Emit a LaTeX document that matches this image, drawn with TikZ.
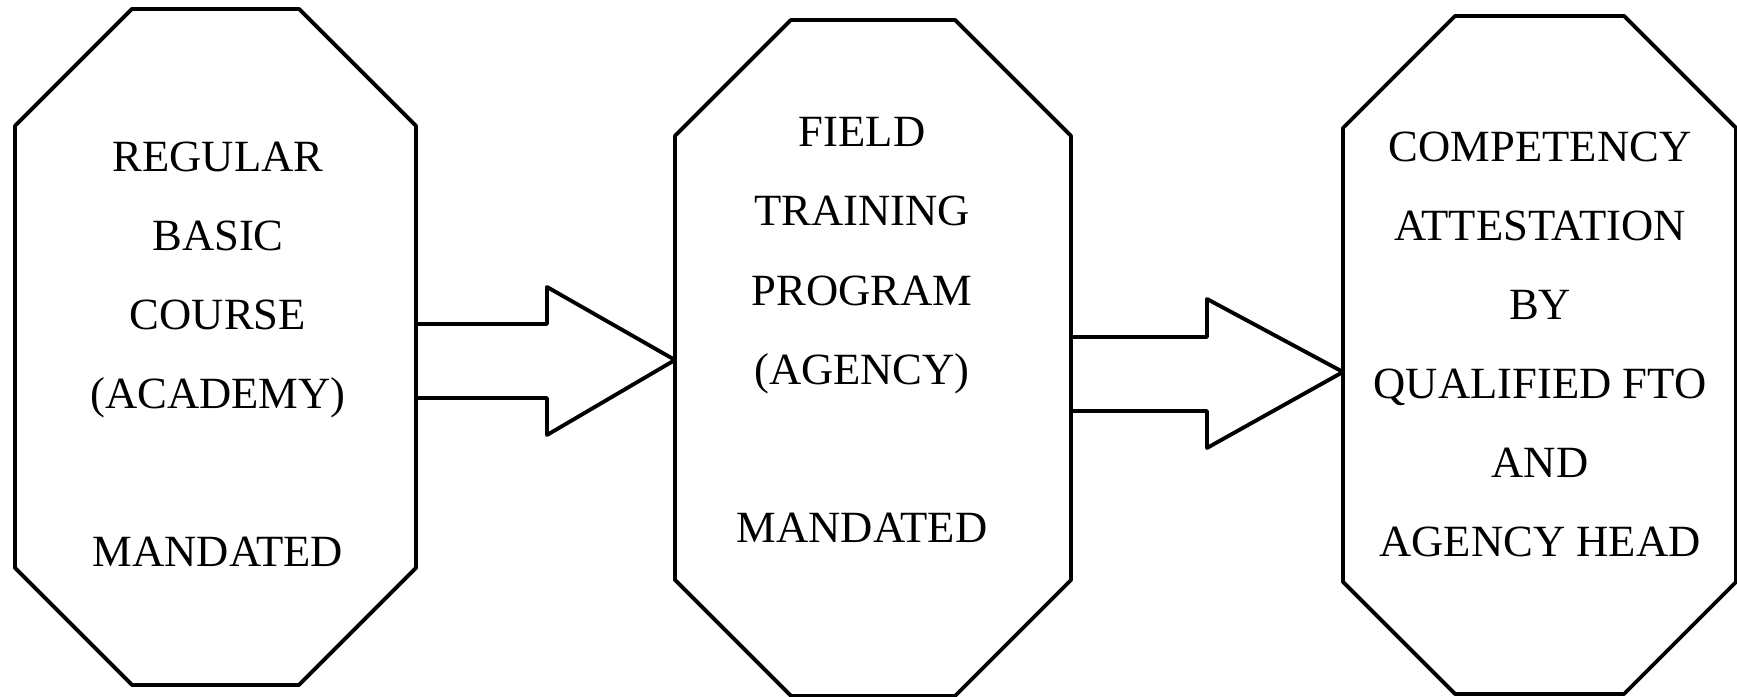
\documentclass[tikz,border=0pt]{standalone}
\usepackage{fontspec}
\setmainfont{Liberation Serif}
\usetikzlibrary{calc}

\begin{document}
\begin{tikzpicture}[line cap=round,line join=round,x=1cm,y=1cm,
  octa/.style={rectangle,inner sep=0pt,outer sep=0pt,minimum width=4cm,minimum height=6.76cm},
  octline/.style={draw,line width=1.1pt},
  lbl/.style={align=center,font=\fontsize{12.7}{22.5}\selectfont},
  blockarrow/.style={draw,line width=1.1pt}]
\useasboundingbox (0,0) rectangle (17.37,6.97);
%
\node[octa,minimum width=4.01cm] (academy) at (2.155,3.50) {};
\node[octa,minimum width=3.96cm] (field) at (8.73,3.39) {};
\node[octa,minimum width=3.93cm,minimum height=6.78cm] (fto) at (15.395,3.42) {};
% cut corners
\foreach \n/\c in {academy/1.17,field/1.16,fto/1.12}
  \draw[octline] ($(\n.north west)+(\c,0)$) -- ($(\n.north east)+(-\c,0)$) -- ($(\n.north east)+(0,-\c)$)
    -- ($(\n.south east)+(0,\c)$) -- ($(\n.south east)+(-\c,0)$) -- ($(\n.south west)+(\c,0)$)
    -- ($(\n.south west)+(0,\c)$) -- ($(\n.north west)+(0,-\c)$) -- cycle;
%
\node[lbl] (academytxt) at (2.18,3.425) {REGULAR\\BASIC\\COURSE\\(ACADEMY)\\[22.5pt]MANDATED};
\node[lbl] (fieldtxt) at (8.62,3.67) {FIELD\\TRAINING\\PROGRAM\\(AGENCY)\\[22.5pt]MANDATED};
\node[lbl] (ftotxt) at (15.40,3.525) {COMPETENCY\\ATTESTATION\\BY\\QUALIFIED FTO\\AND\\AGENCY HEAD};
%
\draw[blockarrow] (academy.east |- 0,3.73) -- (5.47,3.73) -- (5.47,4.10) -- (field.west |- 0,3.37)
  -- (5.47,2.62) -- (5.47,2.99) -- (academy.east |- 0,2.99);
\draw[blockarrow] (field.east |- 0,3.60) -- (12.07,3.60) -- (12.07,3.98) -- (fto.west |- 0,3.25)
  -- (12.07,2.49) -- (12.07,2.86) -- (field.east |- 0,2.86);
\end{tikzpicture}
\end{document}
